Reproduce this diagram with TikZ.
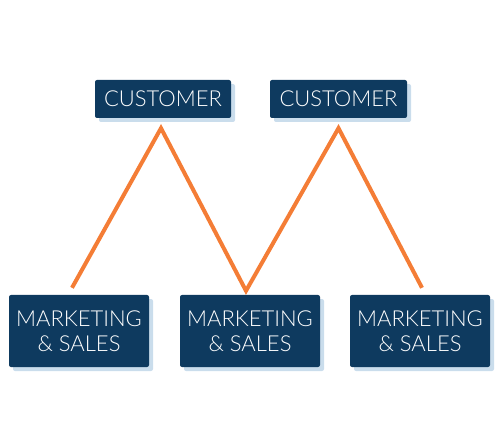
\documentclass[tikz,border=0pt]{standalone}
\usepackage{fontspec}
\setmainfont{Lato}[UprightFont=* Light]
\usetikzlibrary{shadows}
\definecolor{navy}{HTML}{0E3A5F}
\definecolor{shade}{HTML}{CADDEC}
\definecolor{zig}{HTML}{F47D36}
\tikzset{
  box/.style={fill=navy, text=white, rounded corners=2pt, inner sep=0pt,
    drop shadow={shadow xshift=4pt, shadow yshift=-4pt, fill=shade, opacity=1},
    align=center, font=\fontsize{22}{25}\selectfont},
}
\begin{document}
\begin{tikzpicture}[x=1pt,y=-1pt]
\useasboundingbox (0,0) rectangle (500,443);

\node[box, minimum width=136pt, minimum height=38pt] (cust1) at (163,99) {CUSTOMER};
\node[box, minimum width=137pt, minimum height=38pt] (cust2) at (338.5,99) {CUSTOMER};

\node[box, minimum width=140pt, minimum height=72pt] (mkt1) at (79,331) {MARKETING\\\& SALES};
\node[box, minimum width=140pt, minimum height=72pt] (mkt2) at (250,331) {MARKETING\\\& SALES};
\node[box, minimum width=140pt, minimum height=72pt] (mkt3) at (420,331) {MARKETING\\\& SALES};

\coordinate (p1) at ([shift={(-7,-7)}]mkt1.north);
\coordinate (p2) at ([shift={(-2,10)}]cust1.south);
\coordinate (p3) at ([shift={(-4,-4)}]mkt2.north);
\coordinate (p4) at ([shift={(0,10)}]cust2.south);
\coordinate (p5) at ([shift={(2,-7)}]mkt3.north);

\draw[zig, line width=4pt] (p1) -- (p2) -- (p3) -- (p4) -- (p5);
\end{tikzpicture}
\end{document}
